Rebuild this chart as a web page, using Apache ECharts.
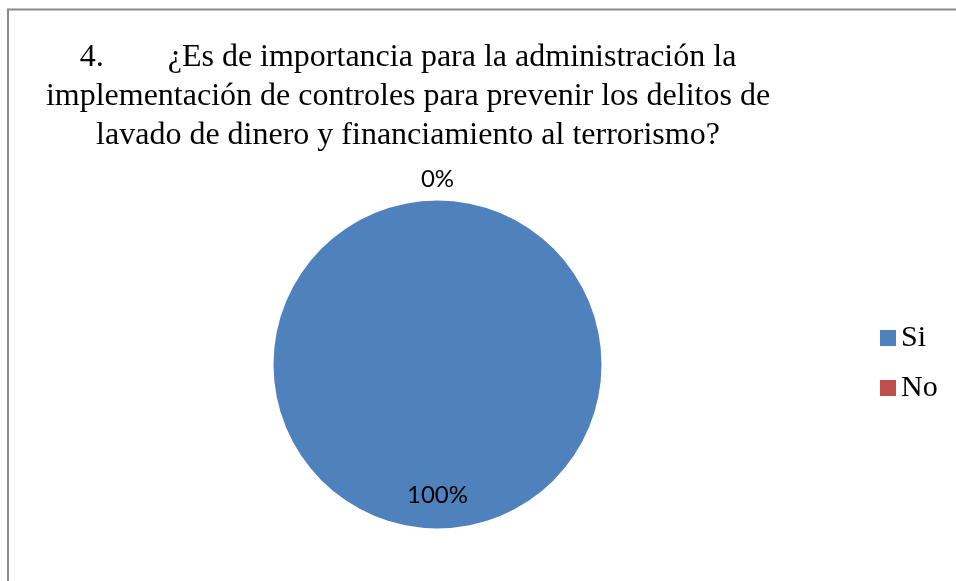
<!DOCTYPE html>
<html>
<head>
<meta charset="utf-8">
<script src="https://cdn.jsdelivr.net/npm/echarts@6/dist/echarts.min.js"></script>
<style>
  html, body { margin: 0; padding: 0; background: #fff; }
  #chart { width: 956px; height: 581px; }
</style>
</head>
<body>
<div id="chart"></div>
<script>
// Survey answers for question 4
const categories = ['Si', 'No'];
const counts = [100, 0];
const sliceColors = ['#4F81BD', '#C0504D'];
const titleLines = [
  '4.        ¿Es de importancia para la administración la',
  'implementación de controles para prevenir los delitos de',
  'lavado de dinero y financiamiento al terrorismo?'
];

const serif = '"Liberation Serif", "Times New Roman", serif';
const pieData = categories.map((name, i) => ({
  name: name,
  value: counts[i],
  itemStyle: { color: sliceColors[i] }
}));

const chart = echarts.init(document.getElementById('chart'), null, { renderer: 'canvas' });
chart.setOption({
  backgroundColor: '#ffffff',
  animation: false,
  graphic: [{
    type: 'rect',
    silent: true,
    shape: { x: 8, y: 9.5, width: 2000, height: 2000 },
    style: { fill: 'none', stroke: '#8a8a8a', lineWidth: 2 }
  }],
  title: {
    text: titleLines.join('\n'),
    left: 403,
    top: 33,
    textAlign: 'center',
    textStyle: {
      fontFamily: serif,
      fontSize: 32,
      fontWeight: 'normal',
      lineHeight: 39,
      color: '#000'
    }
  },
  legend: {
    orient: 'vertical',
    left: 875,
    top: 318,
    icon: 'rect',
    itemWidth: 16,
    itemHeight: 16,
    itemGap: 20,
    itemTextGap: 7,
    selectedMode: false,
    data: categories,
    textStyle: { fontFamily: serif, fontSize: 30, color: '#000' }
  },
  series: [{
    type: 'pie',
    center: [437.5, 364.5],
    radius: 164,
    startAngle: 90,
    clockwise: true,
    minShowLabelAngle: 0,
    avoidLabelOverlap: false,
    data: pieData,
    label: {
      show: true,
      position: 'inside',
      formatter: '{d}%',
      fontFamily: 'Lato, "Open Sans", sans-serif',
      fontSize: 24,
      color: '#000'
    },
    labelLine: { show: false },
    // push the labels toward the rim: the full slice label sits low inside,
    // the empty slice label sits just above the circle
    labelLayout: function (params) {
      return { dy: params.dataIndex === 0 ? 46 : -100 };
    },
    emphasis: { disabled: true }
  }]
});
</script>
</body>
</html>
